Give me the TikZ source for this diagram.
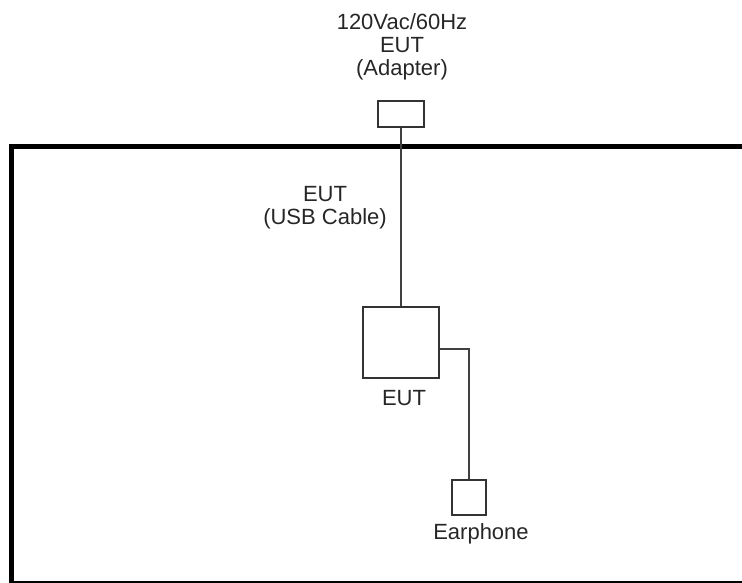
\documentclass[tikz,border=0pt]{standalone}
\usepackage{fontspec}
\setmainfont{Liberation Sans}
\begin{document}
\begin{tikzpicture}[x=1pt,y=-1pt,
  box/.style={draw=black!80,line width=2pt,fill=white,inner sep=0pt},
  wire/.style={draw=black!75,line width=2pt},
  lbl/.style={font=\fontsize{22}{23}\selectfont,align=center,inner sep=0pt,text=black!85},
  frame/.style={draw=black,line width=4.5pt}]
\useasboundingbox (0,0) rectangle (742,583);
\clip (0,0) rectangle (742,583);
\draw[frame] (760,146.5) -- (11.5,146.5) -- (11.5,583.5) -- (760,583.5);
\node[box,minimum width=46pt,minimum height=26pt] (adapter) at (401,114) {};
\node[box,minimum width=76pt,minimum height=71pt] (eut) at (401,342.5) {};
\node[box,minimum width=34pt,minimum height=35pt] (ear) at (469,497.5) {};
\node[lbl,anchor=north] (adlbl) at (402,13) {120Vac/60Hz\\EUT\\(Adapter)};
\node[lbl,anchor=north] (usblbl) at (325,186) {EUT\\(USB Cable)};
\node[lbl,anchor=base] (eutlbl) at (404,405) {EUT};
\node[lbl,anchor=base] (earlbl) at (481,539) {Earphone};
\draw[wire] (adapter.south) -- (eut.north);
\draw[wire] (eut.east |- 0,349) -| (ear.north);
\end{tikzpicture}
\end{document}
